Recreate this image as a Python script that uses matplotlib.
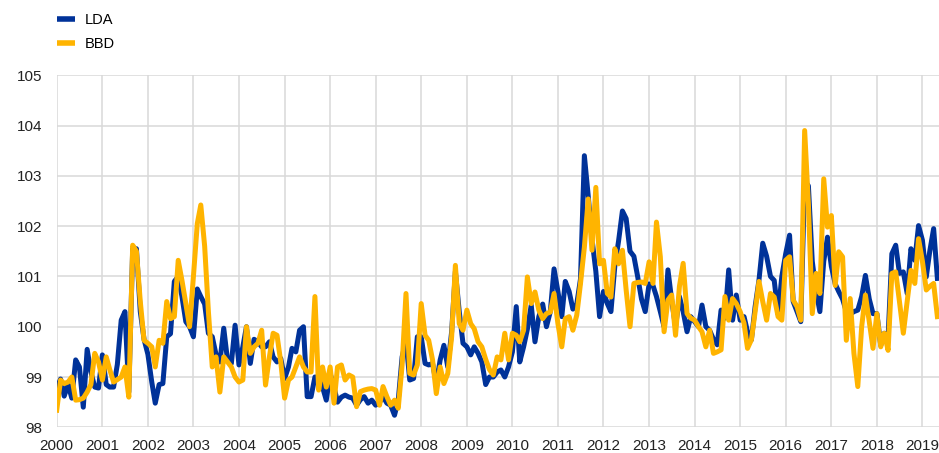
import numpy as np
import pandas as pd
import matplotlib
matplotlib.use("Agg")
import matplotlib.pyplot as plt
import matplotlib.dates as mdates

plt.rcParams["font.family"] = ["Liberation Sans", "DejaVu Sans"]

# Monthly index values, Jan 2000 - May 2019
lda = [
    98.77, 98.96, 98.62, 98.85, 98.58, 99.34, 99.2, 98.4, 99.55, 99.1, 98.8, 98.78,
    99.44, 98.85, 98.8, 98.8, 99.25, 100.13, 100.3, 98.7, 101.55, 101.55, 100.3, 99.75,
    99.45, 98.9, 98.48, 98.85, 98.87, 99.8, 99.86, 100.9, 101.0, 100.6, 100.1, 100.0,
    99.8, 100.75, 100.6, 100.45, 99.87, 99.8, 99.45, 99.3, 99.97, 99.34, 99.27, 100.03,
    99.24, 99.6, 100.0, 99.27, 99.75, 99.7, 99.6, 99.6, 99.7, 99.4, 99.3, 99.37,
    98.97, 99.2, 99.57, 99.5, 99.93, 100.0, 98.61, 98.61, 99.0, 99.0, 98.8, 98.54,
    99.07, 98.8, 98.5, 98.6, 98.64, 98.6, 98.58, 98.44, 98.55, 98.61, 98.48, 98.54,
    98.44, 98.5, 98.61, 98.48, 98.44, 98.24, 98.54, 99.4, 99.73, 98.94, 98.97, 99.8,
    99.8, 99.27, 99.24, 99.27, 98.87, 99.34, 99.63, 99.2, 99.9, 101.1, 100.3, 99.67,
    99.6, 99.44, 99.6, 99.47, 99.3, 98.85, 99.0, 99.0, 99.1, 99.14, 99.0, 99.2,
    99.5, 100.4, 99.3, 99.6, 99.95, 100.43, 99.7, 100.2, 100.45, 100.0, 100.3, 101.15,
    100.7, 100.2, 100.9, 100.7, 100.35, 100.45, 100.95, 103.4, 102.6, 101.75, 101.1, 100.2,
    100.7, 100.46, 100.3, 101.2, 101.7, 102.3, 102.15, 101.5, 101.4, 101.0, 100.55, 100.3,
    100.85, 100.82, 100.6, 100.3, 100.0, 101.13, 100.53, 100.0, 100.6, 100.3, 99.9, 100.2,
    100.1, 100.0, 100.43, 100.0, 99.93, 99.75, 99.64, 100.33, 100.17, 101.13, 100.13, 100.63,
    100.13, 100.2, 99.9, 99.74, 100.4, 100.93, 101.66, 101.4, 101.0, 100.92, 100.25, 101.0,
    101.45, 101.82, 100.5, 100.3, 100.1, 102.9, 102.8, 101.3, 100.7, 100.3, 101.3, 101.78,
    101.2, 100.85, 100.7, 100.55, 100.3, 100.25, 100.3, 100.33, 100.6, 101.02, 100.55, 100.26,
    100.26, 99.63, 99.87, 99.8, 101.45, 101.62, 101.06, 101.09, 100.66, 101.55, 101.32, 102.01,
    101.72, 100.99, 101.5, 101.95, 100.96,
]
bbd = [
    98.34, 98.94, 98.87, 98.9, 99.0, 98.54, 98.55, 98.58, 98.7, 98.85, 99.47, 99.3,
    98.94, 99.4, 99.15, 98.9, 98.95, 99.0, 99.2, 98.6, 101.62, 101.5, 100.5, 99.73,
    99.67, 99.6, 99.2, 99.73, 99.67, 100.5, 100.16, 100.2, 101.32, 100.92, 100.46, 100.0,
    101.0, 102.05, 102.42, 101.6, 100.3, 99.2, 99.4, 98.7, 99.4, 99.3, 99.2, 99.0,
    98.9, 98.94, 100.0, 99.47, 99.6, 99.67, 99.93, 98.84, 99.4, 99.87, 99.83, 99.3,
    98.58, 98.94, 99.0, 99.2, 99.4, 99.2, 99.1, 99.1, 100.6, 98.74, 99.2, 98.8,
    99.2, 98.48, 99.2, 99.24, 98.94, 99.04, 99.0, 98.41, 98.71, 98.74, 98.76, 98.77,
    98.74, 98.44, 98.81, 98.61, 98.44, 98.54, 98.38, 99.24, 100.66, 99.07, 99.04, 99.24,
    100.46, 99.83, 99.73, 99.34, 98.67, 99.2, 98.87, 99.07, 99.8, 101.22, 100.06, 99.93,
    100.33, 100.06, 99.96, 99.7, 99.6, 99.35, 99.15, 99.04, 99.4, 99.34, 99.87, 99.34,
    99.87, 99.83, 99.7, 99.93, 100.99, 100.46, 100.69, 100.33, 100.16, 100.26, 100.29, 100.66,
    100.06, 99.6, 100.16, 100.2, 99.93, 100.23, 100.86, 101.58, 102.54, 101.52, 102.77, 101.25,
    101.32, 100.66, 100.59, 101.55, 101.25, 101.52, 100.73, 100.0, 100.86, 100.88, 100.89, 100.86,
    101.29, 100.86, 102.08, 101.39, 99.9, 100.53, 100.63, 99.83, 100.8, 101.26, 100.26, 100.17,
    100.13, 100.0, 99.9, 99.6, 99.93, 99.47, 99.5, 99.54, 100.6, 100.13, 100.56, 100.46,
    100.3, 100.07, 99.57, 99.74, 100.3, 100.9, 100.5, 100.13, 100.66, 100.59, 100.2, 100.13,
    101.32, 101.39, 100.53, 100.4, 100.13, 103.9, 102.44, 100.26, 101.06, 100.66, 102.94, 101.98,
    102.21, 100.82, 101.49, 101.39, 99.73, 100.56, 99.47, 98.81, 100.0, 100.63, 100.1, 99.57,
    100.26, 99.6, 99.87, 99.53, 101.06, 101.09, 100.5, 99.87, 100.5, 101.12, 100.86, 101.75,
    101.3, 100.73, 100.8, 100.86, 100.2,
]
dates = pd.date_range("2000-01-01", periods=len(lda), freq="MS")

blue = "#003299"
yellow = "#FFB400"
grid = "#d9d9d9"

fig = plt.figure(figsize=(9.39, 4.53), dpi=100)
ax = fig.add_axes([0.0604, 0.0567, 0.9396, 0.7773])

ax.plot(dates, lda, color=blue, lw=3.6, label="LDA", solid_joinstyle="round")
ax.plot(dates, bbd, color=yellow, lw=3.6, label="BBD", solid_joinstyle="round")

ax.set_ylim(98, 105)
ax.set_yticks(range(98, 106))
ax.set_xlim(pd.Timestamp("2000-01-01"), pd.Timestamp("2019-05-14"))
ax.xaxis.set_major_locator(mdates.YearLocator())
ax.xaxis.set_major_formatter(mdates.DateFormatter("%Y"))

ax.grid(True, color=grid, lw=1.1)
ax.set_axisbelow(True)
for s in ax.spines.values():
    s.set_visible(False)
ax.tick_params(length=0, labelsize=11, colors="#222222")
ax.tick_params(axis="y", pad=10.5)
ax.tick_params(axis="x", pad=8.5)

leg = fig.legend(loc="upper left", bbox_to_anchor=(0.047, 1.0), frameon=False,
                 fontsize=10.5, handlelength=1.2, handletextpad=0.7, labelspacing=0.65)
for h in leg.get_lines():
    h.set_linewidth(4)
    h.set_solid_capstyle("butt")

fig.savefig("out.png", dpi=100)
